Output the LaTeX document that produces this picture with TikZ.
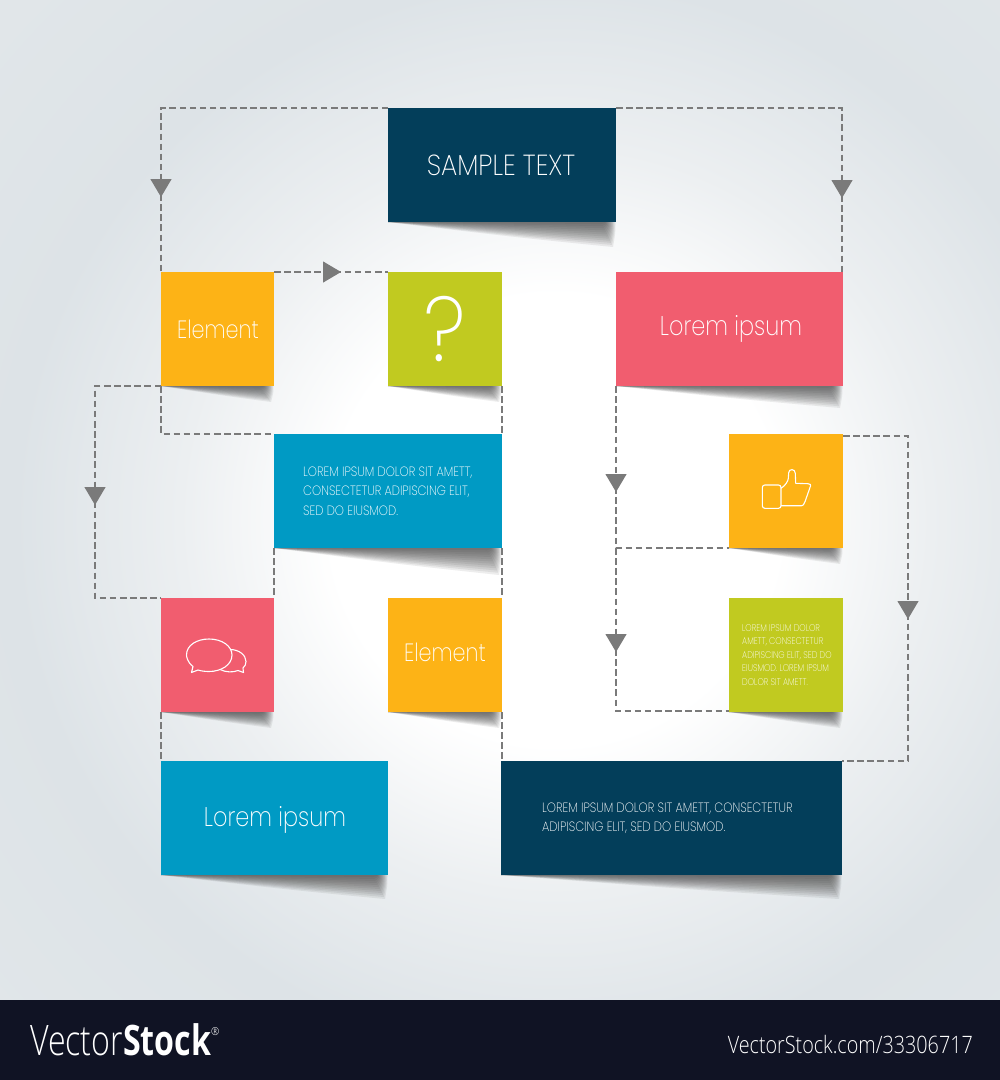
\documentclass[tikz,border=0pt]{standalone}
\usepackage{fontspec}
\usepackage{graphicx}
\setmainfont{Poppins}
\newfontfamily\thinf{Poppins}[UprightFont=* ExtraLight]
\newfontfamily\logof{Open Sans}[UprightFont=* Light,BoldFont=* Bold]
\usetikzlibrary{calc,arrows.meta,decorations.markings,backgrounds}
\definecolor{navy}{HTML}{033E5A}
\definecolor{orange}{HTML}{FDB316}
\definecolor{lime}{HTML}{C1CA20}
\definecolor{rose}{HTML}{F15D6F}
\definecolor{sky}{HTML}{009AC4}
\definecolor{linegray}{HTML}{7A7A7A}
\definecolor{foot}{HTML}{101324}
\definecolor{pagea}{HTML}{ECEFF1}
\definecolor{pageb}{HTML}{DDE3E7}
\definecolor{pagec}{HTML}{E1E6E9}
\pgfdeclareradialshading{pagebg}{\pgfpointorigin}{color(0bp)=(white);color(7.5bp)=(white);color(12.5bp)=(pagea);color(18bp)=(pageb);color(25bp)=(pagec);color(50bp)=(pagec)}
\pgfdeclarelayer{shadowlayer}
\pgfdeclarelayer{linelayer}
\pgfsetlayers{background,shadowlayer,linelayer,main}
\tikzset{
 box/.style={anchor=north west,inner sep=0pt,outer sep=0pt,minimum width=#1},
 box/.default=114pt,
 flow/.style={draw=linegray,line width=1.2pt,dash pattern=on 6.5pt off 3.6pt},
 tipat/.style={postaction={decorate,decoration={markings,mark=at position #1 with {\arrow[fill=linegray,draw=none,solid]{Triangle[length=18pt,width=21pt]}}}}},
 icon/.style={draw=white,line width=1.1pt,line join=round},
 lab/.style={text=white,inner sep=0pt},
}
\newcommand{\undershadow}[2]{%
 \begin{pgfonlayer}{shadowlayer}
 \foreach \k in {0,...,11}{
  \fill[black!80,opacity=.085]
   (#1.south west) .. controls ($(#1.south west)!.55!(#1.south east)+(0,{#2*(1-\k/12)*.6})$) ..
   ($(#1.south east)+({-3-1.1*\k},{#2*(1-\k/12)})$)
   .. controls ($(#1.south east)+({-.5-.9*\k},{#2*(1-\k/12)*.4})$) .. ($(#1.south east)+({-.5-.9*\k},0)$) -- cycle;
 }
 \end{pgfonlayer}}
\begin{document}
\begin{tikzpicture}[x=1pt,y=-1pt]
\useasboundingbox (0,0) rectangle (1000,1080);
\begin{pgfonlayer}{background}
\fill[pagec] (0,0) rectangle (1000,1000);
\begin{scope}
\clip (0,0) rectangle (1000,1000);
\shade[shading=pagebg] (555,520) circle (750);
\end{scope}
\fill[foot] (0,1000) rectangle (1000,1080);
\end{pgfonlayer}
% boxes
\node[box=228pt,minimum height=114pt,fill=navy] (top) at (388,108) {};
\node[box=113pt,minimum height=114pt,fill=orange] (el) at (161,272) {};
\node[box,minimum height=114pt,fill=lime] (q) at (388,272) {};
\node[box=227pt,minimum height=114pt,fill=rose] (lp) at (616,272) {};
\node[box=228pt,minimum height=114pt,fill=sky] (txt) at (274,434) {};
\node[box,minimum height=114pt,fill=orange] (thumb) at (729,434) {};
\node[box,minimum height=114pt,fill=lime] (gtxt) at (729,598) {};
\node[box=113pt,minimum height=114pt,fill=rose] (chat) at (161,598) {};
\node[box,minimum height=114pt,fill=orange] (el2) at (388,598) {};
\node[box=227pt,minimum height=114pt,fill=sky] (lb) at (161,761) {};
\node[box=341pt,minimum height=114pt,fill=navy] (dark) at (501,761) {};
% shadows
\undershadow{top}{25}
\undershadow{el}{16}
\undershadow{q}{16}
\undershadow{lp}{22}
\undershadow{txt}{27}
\undershadow{thumb}{16}
\undershadow{gtxt}{16}
\undershadow{chat}{16}
\undershadow{el2}{16}
\undershadow{lb}{24}
\undershadow{dark}{24}
% connectors
\begin{pgfonlayer}{linelayer}
\coordinate (jl) at (95,386);
\coordinate (jm) at (95,598);
\coordinate (ja) at (616,548);
\coordinate (jr) at (908,436);
\coordinate (jb) at (908,761);
\coordinate (jc) at (616,711);
\coordinate (jt) at (842,272);
\draw[flow,tipat=316pt] (top.north west) -| (el.north west);
\draw[flow,tipat=316pt] (top.north east) -| (jt);
\draw[flow,tipat=67pt] (el.north east) -- (q.north west);
\draw[flow,tipat=185pt] (el.south west) -- (jl) -- (jm) -- (chat.north west);
\draw[flow] (el.south west) |- (txt.north west);
\draw[flow] (txt.south west) -- (chat.north east);
\draw[flow] (q.south east) -- (txt.north east);
\draw[flow] (txt.south east) -- (el2.north east);
\draw[flow] (el2.south east) -- ($(dark.north west)+(1,0)$);
\draw[flow] (chat.south west) -- (lb.north west);
\draw[flow,tipat=106pt] (lp.south west) -- (ja) -- (thumb.south west);
\draw[flow,tipat=104pt] (ja) -- (jc) -- ($(gtxt.south west)+(0,-1)$);
\draw[flow,tipat=248pt] ($(thumb.north east)+(0,2)$) -- (jr) -- (jb) -- (dark.north east);
\end{pgfonlayer}
% texts
\node[lab,font=\thinf\fontsize{29}{29}\selectfont] (t1) at (501,165) {\scalebox{.89}[1]{SAMPLE TEXT}};
\node[lab,font=\thinf\fontsize{25}{25}\selectfont] (t2) at (218,329) {\scalebox{.83}[1]{Element}};
\node[lab,font=\thinf\fontsize{25}{25}\selectfont] (t3) at (445,652) {\scalebox{.83}[1]{Element}};
\node[lab,font=\thinf\fontsize{92}{92}\selectfont] (t4) at (445,329) {\scalebox{.9}[1]{?}};
\node[lab,font=\thinf\fontsize{27}{27}\selectfont] (t5) at (731,329) {\scalebox{.83}[1]{Lorem ipsum}};
\node[lab,font=\thinf\fontsize{27}{27}\selectfont] (t6) at (275,820) {\scalebox{.83}[1]{Lorem ipsum}};
\node[lab,anchor=north west,align=left,font=\thinf\fontsize{13.5}{19.2}\selectfont] (t7) at (303,467) {\scalebox{.86}[1]{LOREM IPSUM DOLOR SIT AMETT,}\\\scalebox{.86}[1]{CONSECTETUR ADIPISCING ELIT,}\\\scalebox{.86}[1]{SED DO EIUSMOD.}};
\node[lab,anchor=north west,align=left,font=\thinf\fontsize{9.7}{13.5}\selectfont] (t8) at (742,624) {\scalebox{.83}[1]{LOREM IPSUM DOLOR}\\\scalebox{.83}[1]{AMETT, CONSECTETUR}\\\scalebox{.83}[1]{ADIPISCING ELIT, SED DO}\\\scalebox{.83}[1]{EIUSMOD. LOREM IPSUM}\\\scalebox{.83}[1]{DOLOR SIT AMETT.}};
\node[lab,anchor=north west,align=left,font=\thinf\fontsize{13.5}{19.2}\selectfont] (t9) at (542,803) {\scalebox{.86}[1]{LOREM IPSUM DOLOR SIT AMETT, CONSECTETUR}\\\scalebox{.86}[1]{ADIPISCING ELIT, SED DO EIUSMOD.}};
% chat icon
\draw[icon] (191.5,672.5) -- (193,666.5) .. controls (187,662) and (186.5,656) .. (186.5,655)
 .. controls (186.5,645) and (197,639) .. (209,639) .. controls (222,639) and (232,646) .. (232,655)
 .. controls (232,665) and (221,671.5) .. (209,671.5) .. controls (205,671.5) and (201,671) .. (198,670) -- cycle;
\draw[icon] (230,649.5) .. controls (239,649.5) and (246,655) .. (246,661.5) .. controls (246,664) and (245,666.5) .. (243,668) -- (243.5,672.5) -- (238,670.5)
 .. controls (233,672.5) and (226,672.5) .. (220,669.5);
% thumb icon
\draw[icon,rounded corners=2.5pt] (762.3,485) rectangle (781,508.3);
\draw[icon,line join=round] (781,488.3) .. controls (785,486) and (788.3,481) .. (788.3,478.3) -- (788.7,472.7)
 .. controls (788.7,468.5) and (795.3,468.5) .. (795.3,473.3) -- (795.7,483.3) -- (808,483.7) .. controls (810.5,483.7) and (811,485) .. (810.5,486)
 -- (805,501.7) .. controls (804,504.5) and (803,505.7) .. (801.7,505.7) -- (781,505.7);
% footer
\node[lab,anchor=base west,font=\logof\fontsize{42}{42}\selectfont] (v1) at (30,1055) {\scalebox{.765}[1]{Vector\textbf{Stock}}};
\node[lab,anchor=base west,font=\logof\fontsize{11}{11}\selectfont] (v2) at (211,1035) {\scalebox{.9}[1]{®}};
\node[lab,anchor=base east,font=\logof\fontsize{24}{24}\selectfont] (v3) at (973,1053) {\scalebox{.823}[1]{VectorStock.com/33306717}};
\end{tikzpicture}
\end{document}
